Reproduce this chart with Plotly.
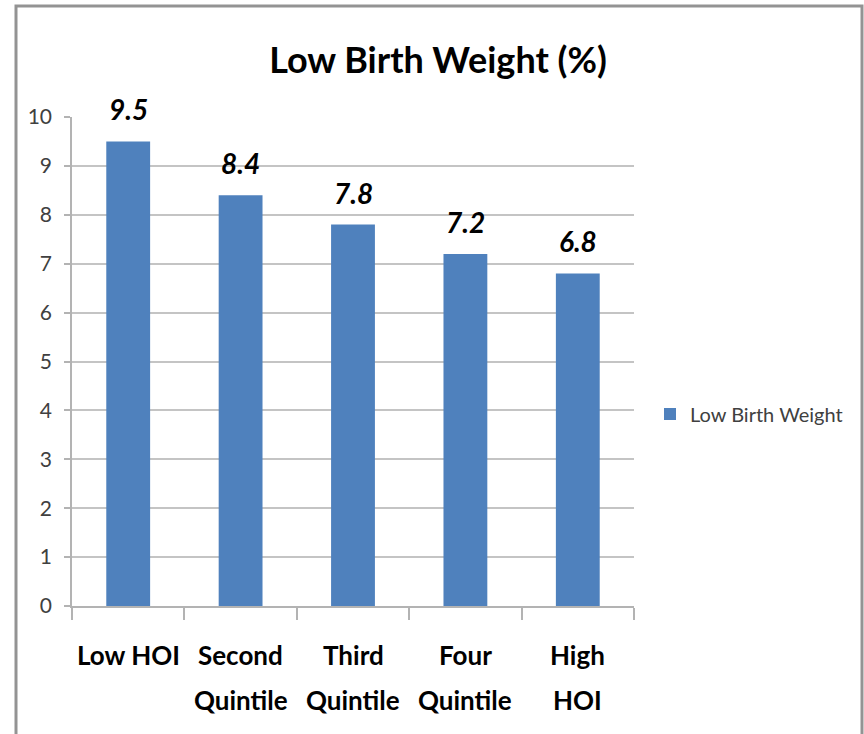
import plotly.graph_objects as go

categories = ["Low HOI", "Second Quintile", "Third Quintile", "Four Quintile", "High HOI"]
label_line1 = ["Low HOI", "Second", "Third", "Four", "High"]
label_line2 = ["", "Quintile", "Quintile", "Quintile", "HOI"]
values = [9.5, 8.4, 7.8, 7.2, 6.8]
value_labels = ["9.5", "8.4", "7.8", "7.2", "6.8"]
series_name = "Low Birth Weight"
title_text = "Low Birth Weight (%)"
y_ticks = list(range(0, 11))

FONT = "Lato, Open Sans, sans-serif"

fig = go.Figure()
fig.add_trace(go.Bar(
    x=categories, y=values, name=series_name,
    marker=dict(color="#4f81bd", line=dict(width=0)),
    showlegend=True,
))

W, H = 864, 734
L, R, T, B = 72, 230, 117, 128
pw, ph = W - L - R, H - T - B

def px_to_paper_x(px):
    return (px - L) / pw

def px_to_paper_y(py):
    return (H - B - py) / ph

for c, v, t in zip(categories, values, value_labels):
    fig.add_annotation(
        x=c, y=v, text="<b><i>" + t + "</i></b>", showarrow=False,
        yanchor="bottom", yshift=13,
        font=dict(family=FONT, size=28, color="#000000"),
    )

for c, l1, l2 in zip(categories, label_line1, label_line2):
    for txt, py in ((l1, 655), (l2, 700)):
        if txt:
            fig.add_annotation(
                x=c, xref="x", y=px_to_paper_y(py), yref="paper",
                text="<b>" + txt + "</b>", showarrow=False,
                xanchor="center", yanchor="middle",
                font=dict(family=FONT, size=26, color="#000000"),
            )

fig.add_shape(
    type="rect", xref="paper", yref="paper",
    x0=px_to_paper_x(16), x1=px_to_paper_x(862),
    y0=px_to_paper_y(760), y1=px_to_paper_y(6),
    line=dict(color="#939393", width=3), fillcolor="rgba(0,0,0,0)", layer="below",
)

fig.update_layout(
    width=W, height=H,
    margin=dict(l=L, r=R, t=T, b=B, autoexpand=False),
    paper_bgcolor="white", plot_bgcolor="white",
    bargap=0.61,
    title=dict(
        text="<b>" + title_text + "</b>",
        x=438 / W, xanchor="center", xref="container",
        y=1 - 60 / H, yanchor="middle", yref="container",
        font=dict(family=FONT, size=36, color="#000000"),
    ),
    legend=dict(
        x=px_to_paper_x(650), xanchor="left",
        y=px_to_paper_y(414), yanchor="middle",
        font=dict(family=FONT, size=20, color="#404040"),
        bgcolor="rgba(0,0,0,0)",
    ),
    xaxis=dict(
        type="category",
        showline=True, linecolor="#b3b3b3", linewidth=1.5,
        ticks="outside", ticklen=12, tickcolor="#b3b3b3", tickwidth=1.5,
        tickson="boundaries", showticklabels=False,
        showgrid=False,
    ),
    yaxis=dict(
        range=[0, 10], tickvals=y_ticks,
        showline=True, linecolor="#b3b3b3", linewidth=1.5,
        ticks="outside", ticklen=6, tickcolor="#b3b3b3", tickwidth=1.5,
        ticklabelstandoff=8,
        showgrid=True, gridcolor="#c4c4c4", gridwidth=1.5,
        zeroline=False,
        tickfont=dict(family=FONT, size=21, color="#404040"),
    ),
)

fig.write_html(
    "out.html",
    config={"displayModeBar": False},
    post_script="document.body.style.margin='0';document.body.style.padding='0';",
)
